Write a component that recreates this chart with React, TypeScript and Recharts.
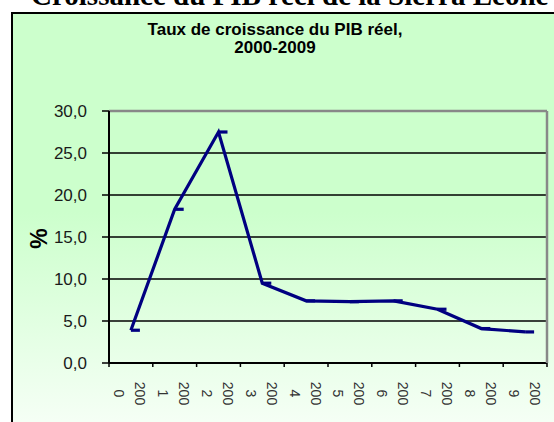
import React from "react";
import {
  LineChart,
  Line,
  XAxis,
  YAxis,
  CartesianGrid,
  ReferenceLine,
  Label,
} from "recharts";

const pageTitle = "Croissance du PIB réel de la Sierra Leone";
const chartTitleLines = ["Taux de croissance du PIB réel,", "2000-2009"];
const categories = ["2000", "2001", "2002", "2003", "2004", "2005", "2006", "2007", "2008", "2009"];
const growth = [3.9, 18.3, 27.5, 9.5, 7.4, 7.3, 7.4, 6.4, 4.1, 3.7];
const yTicks = [0, 5, 10, 15, 20, 25, 30];
const yLabel = "%";

const data = categories.map((c, i) => ({ year: c, value: growth[i] }));

const NAVY = "#000080";

const fmt = (v: number) => v.toFixed(1).replace(".", ",");

const XTick = (props: any) => {
  const { x, y, payload, index, visibleTicksCount } = props;
  const half = payload && typeof payload.offset === "number" && payload.offset > 0 ? payload.offset : 21.9;
  const axisY = y - 4;
  const s = String(payload.value);
  const first = s.slice(0, 3);
  const rest = s.slice(3);
  const last = index === (visibleTicksCount ?? categories.length) - 1;
  return (
    <g>
      <line x1={x - half} x2={x - half} y1={axisY} y2={axisY + 4} stroke="#000" strokeWidth={1.5} />
      {last && <line x1={x + half} x2={x + half} y1={axisY} y2={axisY + 4} stroke="#000" strokeWidth={1.5} />}
      <g transform={`translate(${x - 0.5},${axisY + 30.5}) rotate(90)`}>
        <text textAnchor="middle" fontSize={14} fontFamily="Arial, 'Liberation Sans', sans-serif" fill="#333">
          <tspan x={0} y={-10 + 5}>{first}</tspan>
          <tspan x={0} y={11 + 5}>{rest}</tspan>
        </text>
      </g>
    </g>
  );
};

const DashDot = (props: any) => {
  const { cx, cy, index } = props;
  if (cx == null || cy == null) return null;
  return <rect key={`d${index}`} x={cx} y={cy - 1.6} width={9} height={3.2} fill={NAVY} />;
};

const PctLabel = (props: any) => {
  const vb = props.viewBox || { x: 0, y: 111, width: 109, height: 252 };
  const cx = vb.x + 39;
  const cy = vb.y + vb.height / 2 + 1.5;
  return (
    <text
      x={cx}
      y={cy}
      transform={`rotate(-90, ${cx}, ${cy})`}
      textAnchor="middle"
      dominantBaseline="central"
      fontSize={23}
      fontWeight="bold"
      fontFamily="Arial, 'Liberation Sans', sans-serif"
      fill="#000"
    >
      {yLabel}
    </text>
  );
};

export default function App() {
  return (
    <div style={{ position: "absolute", left: 0, top: 0, width: 554, height: 422, overflow: "hidden", background: "#fff" }}>
      <div
        style={{
          position: "absolute",
          left: 0,
          top: -21,
          width: 554,
          textAlign: "left",
          paddingLeft: 31,
          whiteSpace: "nowrap",
          fontFamily: "'Liberation Serif', 'Times New Roman', serif",
          fontWeight: "bold",
          fontSize: 29,
          lineHeight: "32px",
          color: "#000",
        }}
      >
        {pageTitle}
      </div>
      <div
        style={{
          position: "absolute",
          left: 11,
          top: 12,
          width: 600,
          height: 412,
          border: "2px solid #000",
          background: "linear-gradient(to bottom, #ccffcc 0%, #ccffcc 48%, #f6fff6 100%)",
        }}
      />
      <div
        style={{
          position: "absolute",
          left: 0,
          top: 21,
          width: 550,
          textAlign: "center",
          fontFamily: "Arial, 'Liberation Sans', sans-serif",
          fontWeight: "bold",
          fontSize: 17,
          lineHeight: "18px",
          color: "#000",
        }}
      >
        <div>{chartTitleLines[0]}</div>
        <div>{chartTitleLines[1]}</div>
      </div>
      <div style={{ position: "absolute", left: 0, top: 0 }}>
        <LineChart width={554} height={422} data={data} margin={{ top: 111, right: 0, bottom: 0, left: 0 }}>
          <CartesianGrid vertical={false} stroke="#000" strokeWidth={1.5} />
          <XAxis
            dataKey="year"
            scale="band"
            interval={0}
            height={59}
            tickLine={false}
            tickSize={4}
            tickMargin={0}
            axisLine={{ stroke: "#000", strokeWidth: 2 }}
            tick={<XTick />}
          />
          <YAxis
            domain={[0, 30]}
            ticks={yTicks}
            width={109}
            tickFormatter={fmt}
            tickSize={7}
            tickMargin={15}
            axisLine={{ stroke: "#000", strokeWidth: 2 }}
            tickLine={{ stroke: "#000", strokeWidth: 1.5 }}
            tick={{ fontSize: 17, fill: "#1a1a1a", fontFamily: "Arial, 'Liberation Sans', sans-serif" }}
          >
            <Label content={<PctLabel />} />
          </YAxis>
          <YAxis
            yAxisId="r"
            orientation="right"
            domain={[0, 30]}
            width={7}
            tick={false}
            tickLine={false}
            axisLine={{ stroke: "#888", strokeWidth: 2.5 }}
          />
          <ReferenceLine y={30} stroke="#888" strokeWidth={2.5} />
          <Line
            type="linear"
            dataKey="value"
            stroke={NAVY}
            strokeWidth={3.2}
            dot={<DashDot />}
            activeDot={false}
            isAnimationActive={false}
          />
        </LineChart>
      </div>
    </div>
  );
}
